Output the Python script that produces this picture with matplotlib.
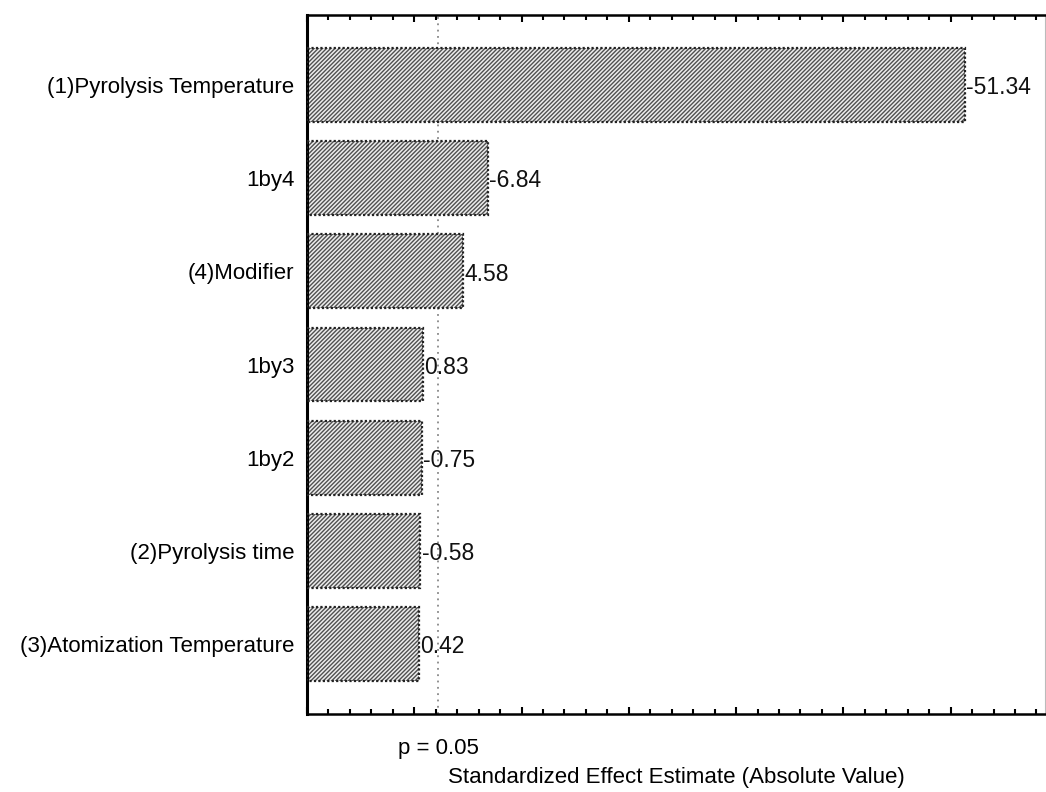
import matplotlib
matplotlib.use("Agg")
import matplotlib.pyplot as plt
from matplotlib.ticker import MultipleLocator, NullFormatter

factors = ["(1)Pyrolysis Temperature", "1by4", "(4)Modifier", "1by3", "1by2",
           "(2)Pyrolysis time", "(3)Atomization Temperature"]
effects = [-51.34, -6.84, 4.58, 0.83, -0.75, -0.58, 0.42]
effect_labels = ["-51.34", "-6.84", "4.58", "0.83", "-0.75", "-0.58", "0.42"]
p_crit = 2.228
p_label = "p = 0.05"
x_label = "Standardized Effect Estimate (Absolute Value)"

plt.rcParams['font.family'] = ['Liberation Sans', 'DejaVu Sans']
plt.rcParams['hatch.linewidth'] = 1.0

fig = plt.figure(figsize=(10.46, 7.92), dpi=100)
ax = fig.add_axes([307/1046, 1 - 714/792, (1045 - 307)/1046, (714 - 15)/792])

xmin, xmax = -10, 58.8
ypos = list(range(len(factors)))
absvals = [abs(v) for v in effects]
widths = [a - xmin for a in absvals]

ax.barh(ypos, widths, left=xmin, height=0.79, color='#ececec',
        edgecolor='#505050', hatch='////////', linewidth=0, zorder=2)
ax.barh(ypos, widths, left=xmin, height=0.79, fill=False,
        edgecolor='#222222', linestyle=(0, (1, 1)), linewidth=1.6, zorder=3)

for y, a, lab in zip(ypos, absvals, effect_labels):
    ax.text(a + 0.1, y + 0.03, lab, ha='left', va='center', fontsize=16.5, color='#111111')

ax.axvline(p_crit, color='#888888', linestyle=(0, (1, 2.5)), linewidth=1.3, zorder=1)

ax.set_xlim(xmin, xmax)
ax.set_ylim(len(factors) - 0.25, -0.75)
ax.set_yticks(ypos)
ax.set_yticklabels(factors, fontsize=16)
ax.xaxis.set_major_locator(MultipleLocator(10))
ax.xaxis.set_minor_locator(MultipleLocator(2))
ax.xaxis.set_major_formatter(NullFormatter())
ax.tick_params(axis='x', which='both', direction='in', top=True, bottom=True, width=1.5)
ax.tick_params(axis='x', which='major', length=5)
ax.tick_params(axis='x', which='minor', length=3.5)
ax.tick_params(axis='y', direction='in', length=4, width=1.2, pad=9, left=True, right=False)

for s in ['left', 'bottom', 'top']:
    ax.spines[s].set_linewidth(1.8)
ax.spines['left'].set_linewidth(2.2)
ax.spines['right'].set_linewidth(0.8)
ax.spines['right'].set_color('#bbbbbb')

ax.text(p_crit, -0.035, p_label, transform=ax.get_xaxis_transform(), ha='center', va='top', fontsize=16)
fig.text((307 + 1045) / 2 / 1046, 1 - 777/792, x_label, ha='center', va='center', fontsize=16)

fig.savefig("out.png", dpi=100)
